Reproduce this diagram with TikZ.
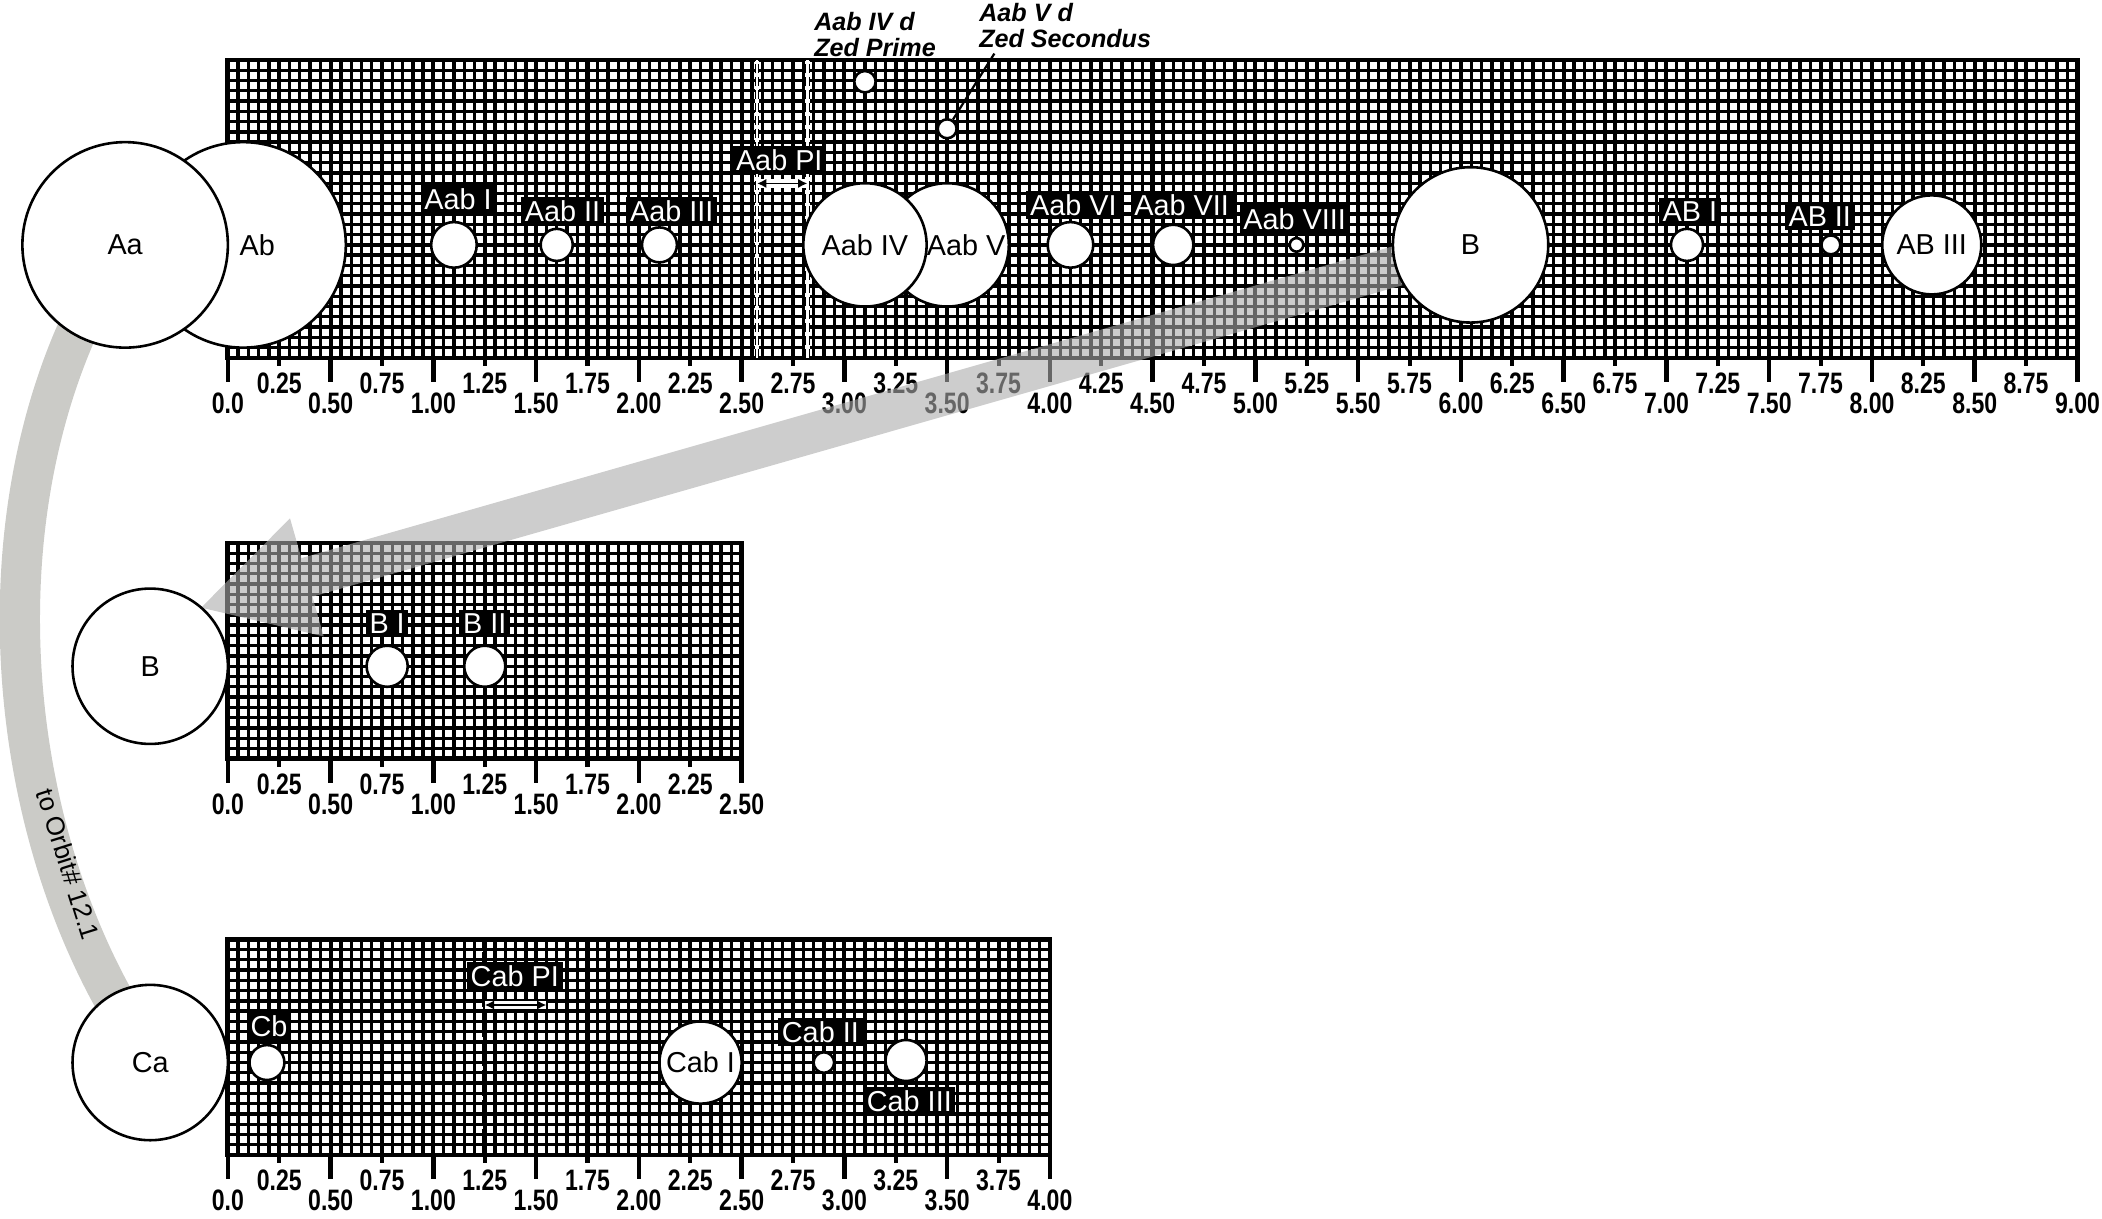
\documentclass[tikz,border=0pt]{standalone}
\usepackage{fontspec}
\setmainfont{Liberation Sans}
\usetikzlibrary{calc,arrows.meta}

\newcommand{\unitau}{1.955cm}
\newcommand{\bodyfont}{\fontsize{7.8}{9}\selectfont}
\newcommand{\ticklabelfont}{\bfseries\fontsize{8}{9}\selectfont}
\newcommand{\moonfont}{\bfseries\itshape\fontsize{6.8}{7}\selectfont}
\newcommand{\orbitfont}{\fontsize{7}{8}\selectfont}
\newcommand{\narrow}[1]{\scalebox{0.78}[1]{#1}}
\newcommand{\ticktext}[1]{\ifnum#1=0\relax 0.0\else\pgfmathparse{#1/4}\pgfmathprintnumber[fixed,fixed zerofill,precision=2,assume math mode=true]{\pgfmathresult}\fi}
\definecolor{bandgrey}{RGB}{203,203,199}

\tikzset{
    gridfine/.style = {line width=0.9pt},
    gridquarter/.style = {line width=1.1pt},
    gridframe/.style = {line width=1.3pt},
    tickmajor/.style = {line width=1.2pt},
    tickminor/.style = {line width=1.1pt},
    ticklabel/.style = {font=\ticklabelfont, inner sep=0pt},
    body/.style = {circle, draw, line width=0.7pt, fill=white, inner sep=0pt, minimum size=2*#1*\unitau, font=\bodyfont},
    plabel/.style = {fill=black, text=white, inner sep=1pt, font=\bodyfont},
    moonlabel/.style = {font=\moonfont, align=left, anchor=west, inner sep=0pt},
    leader/.style = {line width=0.6pt},
    orbitband/.style = {draw=bandgrey, line width=0.383cm},
    transfer/.style = {fill=black!33, fill opacity=0.6},
    piclear/.style = {draw=white, line width=1.3pt},
    pidash/.style = {line width=0.3pt, double=white, double distance=0.7pt, dash pattern=on 2.5pt off 1pt},
    pimark/.style = {line width=1.3pt, dash pattern=on 7pt off 1pt},
    piarrow/.style = {{Latex[length=2.5pt,width=2.5pt]}-{Latex[length=2.5pt,width=2.5pt]}, line width=0.5pt},
}

\begin{document}
\begin{tikzpicture}[x=\unitau, y=\unitau]
    \useasboundingbox (-1.1089,-4.1879) rectangle (9.1194,1.7417);

    % positions of the large bodies
    \coordinate (posAa) at (-0.5,0.55);
    \coordinate (posBtop) at (6.047,0.55);
    \coordinate (posBmid) at (-0.378,-1.5004);
    \coordinate (posCa) at (-0.378,-3.4287);

    % band down to Ca
    \draw[orbitband] ($(posAa)+(240:0.42)$) to[out=245, in=120, looseness=0.85]
        node[pos=0.78, sloped, font=\orbitfont, yshift=3pt] {to Orbit\# 12.1} ($(posCa)+(120:0.3)$);

    % the three charts
    \foreach \base/\len/\rows/\n in {0/9/29/36, -1.9504/2.5/21/10, -3.8787/4/21/16} {
        \begin{scope}[shift={(0,\base)}]
            \draw[gridfine] (0,0) grid[step=0.05] (\len+0.001,\rows*0.05+0.001);
            \draw[gridquarter] (0,0) grid[xstep=0.25, ystep=10] (\len+0.001,\rows*0.05);
            \draw[gridframe] (0,0) rectangle (\len,\rows*0.05);
            \foreach \i in {0,...,\n} {
                \ifodd\i
                    \draw[tickminor] (\i/4,0) -- ++(0,-0.04);
                    \node[ticklabel] at (\i/4,-0.124) {\narrow{\ticktext{\i}}};
                \else
                    \draw[tickmajor] (\i/4,0) -- ++(0,-0.117);
                    \node[ticklabel] at (\i/4,-0.222) {\narrow{\ticktext{\i}}};
                \fi
            }
        \end{scope}
    }

    % marked lines, top chart
    \draw[gridframe] (4.5,0) -- (4.5,1.45);
    \draw[gridframe] (8,0) -- (8,1.45);
    \draw[piclear] (2.575,0) -- (2.575,1.45);
    \draw[piclear] (2.82,0) -- (2.82,1.45);
    \draw[pidash] (2.575,0) -- (2.575,1.45);
    \draw[pidash] (2.82,0) -- (2.82,1.45);
    \draw[draw=white, line width=2.4pt] (2.575,0.849) -- (2.82,0.849);
    \draw[piarrow] (2.575,0.849) -- (2.82,0.849);

    % marked line, bottom chart
    \begin{scope}[shift={(0,-3.8787)}]
        \draw[pimark] (1.25,0) -- (1.25,1.05);
        \draw[draw=white, line width=2.4pt] (1.25,0.73) -- (1.55,0.73);
        \draw[piarrow] (1.25,0.73) -- (1.55,0.73);
    \end{scope}

    % transfer arrow B -> B
    \coordinate (tip) at ($(posBmid)+(49:0.378)$);
    \coordinate (headbase) at ($(tip)!1.046cm!(posBtop)$);
    \fill[transfer] ($(posBtop)!0.191cm!90:(tip)$) -- ($(headbase)!0.191cm!90:(tip)$)
        -- ($(headbase)!0.584cm!90:(tip)$) -- (tip) -- ($(headbase)!0.584cm!-90:(tip)$)
        -- ($(headbase)!0.191cm!-90:(tip)$) -- ($(posBtop)!0.191cm!-90:(tip)$) -- cycle;

    % bodies, top chart
    \node[body=0.5, label={[font=\bodyfont, xshift=0.134cm]center:Ab}] (Ab) at (0.074,0.55) {};
    \node[body=0.5] (Aa) at (posAa) {Aa};
    \node[body=0.111] (AabI) at (1.1,0.55) {};
    \node[body=0.078] (AabII) at (1.6,0.55) {};
    \node[body=0.085] (AabIII) at (2.1,0.55) {};
    \node[body=0.3, label={[font=\bodyfont, xshift=0.18cm]center:Aab V}] (AabV) at (3.5,0.55) {};
    \node[body=0.3] (AabIV) at (3.1,0.55) {Aab IV};
    \node[body=0.052] (AabIVd) at (3.1,1.344) {};
    \node[body=0.046] (AabVd) at (3.5,1.115) {};
    \node[body=0.111] (AabVI) at (4.1,0.55) {};
    \node[body=0.098] (AabVII) at (4.6,0.55) {};
    \node[body=0.033] (AabVIII) at (5.2,0.55) {};
    \node[body=0.378] (Btop) at (posBtop) {B};
    \node[body=0.078] (ABI) at (7.1,0.55) {};
    \node[body=0.046] (ABII) at (7.8,0.55) {};
    \node[body=0.241] (ABIII) at (8.291,0.55) {AB III};

    % bodies, middle chart
    \node[body=0.378] (Bmid) at (posBmid) {B};
    \node[body=0.1] (BI) at (0.775,-1.5004) {};
    \node[body=0.1] (BII) at (1.25,-1.5004) {};

    % bodies, bottom chart
    \node[body=0.378] (Ca) at (posCa) {Ca};
    \node[body=0.085] (Cb) at (0.19,-3.4287) {};
    \node[body=0.2] (CabI) at (2.3,-3.4287) {Cab I};
    \node[body=0.05] (CabII) at (2.9,-3.4287) {};
    \node[body=0.1] (CabIII) at (3.3,-3.4187) {};

    % labels
    \node[plabel] (lAabI) at (1.12,0.773) {Aab I};
    \node[plabel] (lAabII) at (1.628,0.712) {Aab II};
    \node[plabel] (lAabIII) at (2.16,0.712) {Aab III};
    \node[plabel] (lAabPI) at (2.683,0.963) {Aab PI};
    \node[plabel] (lAabVI) at (4.114,0.744) {Aab VI};
    \node[plabel] (lAabVII) at (4.641,0.744) {Aab VII};
    \node[plabel] (lAabVIII) at (5.191,0.675) {Aab VIII};
    \node[plabel] (lABI) at (7.114,0.713) {AB I};
    \node[plabel] (lABII) at (7.746,0.687) {AB II};
    \node[plabel] (lBI) at (0.775,-1.2904) {B I};
    \node[plabel] (lBII) at (1.25,-1.2904) {B II};
    \node[plabel] (lCb) at (0.2,-3.2517) {Cb};
    \node[plabel] (lCabPI) at (1.396,-3.0107) {Cab PI};
    \node[plabel] (lCabII) at (2.883,-3.2797) {Cab II};
    \node[plabel] (lCabIII) at (3.316,-3.6167) {Cab III};

    % moons
    \node[moonlabel] (lAabIVd) at (2.85,1.572) {Aab IV d\\Zed Prime};
    \node[moonlabel] (lAabVd) at (3.653,1.618) {Aab V d\\Zed Secondus};
    \draw[leader] (AabVd) -- ([xshift=0.15cm, yshift=-0.05cm]lAabVd.south west);
\end{tikzpicture}
\end{document}
